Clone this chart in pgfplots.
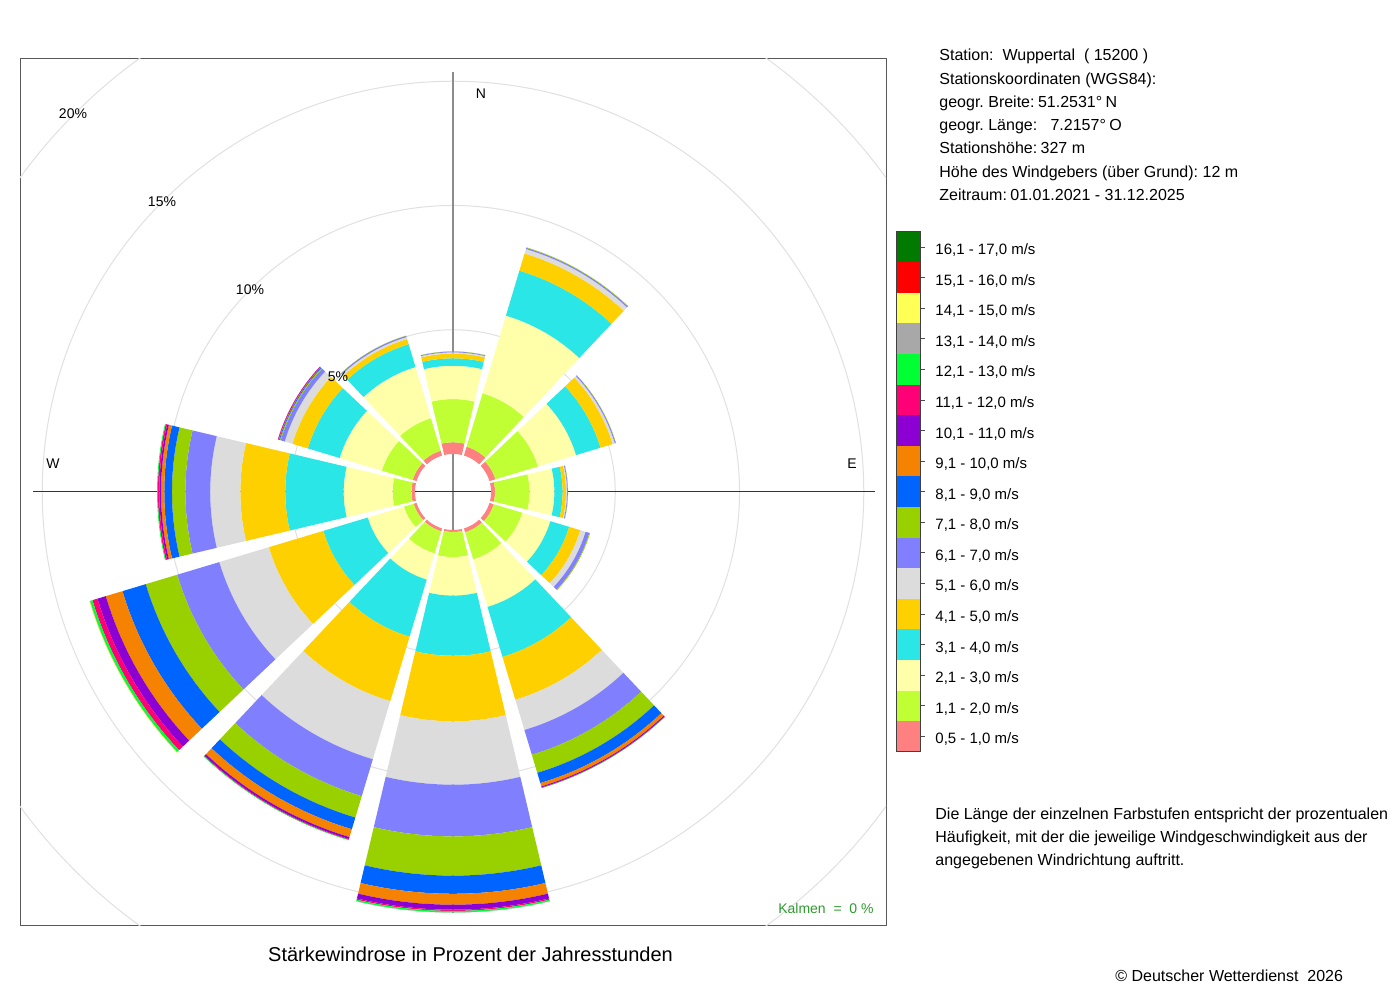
\documentclass[border=0pt]{standalone}
\usepackage{fontspec}
\setmainfont{Liberation Sans}
\usepackage{pgfplots}
\usepackage{pgfplotstable}
\pgfplotsset{compat=1.18}
\frenchspacing

\definecolor{wc1}{HTML}{FF8080}
\definecolor{wc2}{HTML}{BFFF33}
\definecolor{wc3}{HTML}{FFFFAA}
\definecolor{wc4}{HTML}{2AE6E6}
\definecolor{wc5}{HTML}{FFD000}
\definecolor{wc6}{HTML}{DCDCDC}
\definecolor{wc7}{HTML}{8080FF}
\definecolor{wc8}{HTML}{99D000}
\definecolor{wc9}{HTML}{0064FF}
\definecolor{wc10}{HTML}{F58200}
\definecolor{wc11}{HTML}{8C00D4}
\definecolor{wc12}{HTML}{FF0077}
\definecolor{wc13}{HTML}{00FF33}
\definecolor{wc14}{HTML}{A8A8A8}
\definecolor{wc15}{HTML}{FFFF55}
\definecolor{wc16}{HTML}{FF0000}
\definecolor{wc17}{HTML}{007A00}
\definecolor{kalm}{HTML}{2E9A2E}

% frequency (%) per direction and speed class
\pgfplotstableread{
dir c1 c2 c3 c4 c5 c6 c7 c8 c9 c10 c11 c12 c13 c14 c15 c16 c17
0   0.47 1.74 1.34 0.30 0.19 0.05 0.03 0.01 0 0 0 0 0 0 0 0 0
30  0.37 2.25 3.26 1.89 0.72 0.19 0.05 0.02 0 0 0 0 0 0 0 0 0
60  0.25 1.79 1.60 1.03 0.51 0.09 0.04 0.01 0 0 0 0 0 0 0 0 0
90  0.16 1.39 1.00 0.33 0.14 0.04 0.03 0.01 0 0 0 0 0 0 0 0 0
120 0.18 1.20 1.18 0.79 0.47 0.22 0.16 0.03 0 0 0 0 0 0 0 0 0
150 0.16 1.14 2.00 2.10 1.80 1.27 1.04 0.76 0.43 0.14 0.04 0.02 0.01 0 0 0 0
180 0.08 1.01 1.55 2.42 2.64 2.55 2.08 1.58 0.73 0.44 0.20 0.05 0.06 0.01 0 0 0
210 0.12 0.93 1.10 2.40 2.71 2.44 1.55 0.90 0.49 0.33 0.08 0.03 0.02 0 0 0 0
240 0.12 0.41 1.52 1.87 2.29 2.08 1.77 1.32 0.98 0.70 0.35 0.21 0.10 0.02 0.02 0 0
270 0.14 0.76 1.97 2.35 1.81 1.21 1.00 0.54 0.31 0.13 0.07 0.06 0.03 0 0 0 0
300 0.16 1.30 1.77 1.34 0.65 0.32 0.17 0.04 0.03 0.02 0.02 0.01 0 0 0 0 0
330 0.20 1.37 2.15 0.96 0.22 0.08 0.05 0.01 0 0 0 0 0 0 0 0 0
}\rosedata

\def\roff{1.53}
\newcommand\addsector[4]{%
  \gdef\sectorpts{}%
  \foreach \j in {0,...,16}{%
    \pgfmathsetmacro\ang{#1-13.3+\j*1.6625}%
    \pgfmathsetmacro\rr{#3+\roff}%
    \pgfmathsetmacro\xx{\rr*sin(\ang)}%
    \pgfmathsetmacro\yy{\rr*cos(\ang)}%
    \xdef\sectorpts{\sectorpts(\xx,\yy)}%
  }%
  \foreach \j in {16,15,...,0}{%
    \pgfmathsetmacro\ang{#1-13.3+\j*1.6625}%
    \pgfmathsetmacro\rr{#2+\roff}%
    \pgfmathsetmacro\xx{\rr*sin(\ang)}%
    \pgfmathsetmacro\yy{\rr*cos(\ang)}%
    \xdef\sectorpts{\sectorpts(\xx,\yy)}%
  }%
  \edef\temp{\noexpand\addplot[fill=#4,draw=none,forget plot] coordinates {\sectorpts};}%
  \temp
}

\newcommand\legitem[3]{%
  \fill[#2] (448pt,{384.15pt-15.295pt*#1}) rectangle (460.35pt,{384.15pt-15.295pt*(#1+1)});
  \draw[black!70,line width=0.4pt] (460.35pt,{384.15pt-15.295pt*(#1+0.5)}) -- ++(2.3pt,0);
  \node[anchor=west,inner sep=0pt,font=\fontsize{7.5pt}{9pt}\selectfont] at (467.5pt,{382.65pt-15.295pt*(#1+0.5)}) {#3};
}

\begin{document}
\begin{tikzpicture}
\useasboundingbox (0,0) rectangle (700pt,500pt);
\begin{axis}[
  at={(10pt,37.5pt)}, anchor=south west,
  width=433pt, height=433pt, scale only axis,
  xmin=-17.425, xmax=17.425, ymin=-17.425, ymax=17.425,
  xtick=\empty, ytick=\empty,
  axis line style={draw=black!65, line width=0.5pt},
  clip=true,
]
% grid circles and cross (clipped to the frame)
\begin{scope}
\clip (axis cs:-17.425,-17.425) rectangle (axis cs:17.425,17.425);
\draw[black!12, line width=0.5pt] (axis cs:0,0) circle[radius=6.53];
\draw[black!12, line width=0.5pt] (axis cs:0,0) circle[radius=11.53];
\draw[black!12, line width=0.5pt] (axis cs:0,0) circle[radius=16.53];
\draw[black!12, line width=0.5pt] (axis cs:0,0) circle[radius=21.53];
\end{scope}
\draw[black!45, line width=1pt] (axis cs:0,-16.95) -- (axis cs:0,16.91);
\draw[black!80, line width=0.5pt] (axis cs:-16.89,0) -- (axis cs:16.99,0);
% sectors
\foreach \r in {0,...,11}{%
  \pgfplotstablegetelem{\r}{dir}\of\rosedata
  \let\dirv\pgfplotsretval
  \gdef\cumin{0}%
  \foreach \k in {1,...,17}{%
    \pgfplotstablegetelem{\r}{c\k}\of\rosedata
    \let\val\pgfplotsretval
    \pgfmathsetmacro\cumout{\cumin+\val}%
    \ifdim\val pt>0pt
      \addsector{\dirv}{\cumin}{\cumout}{wc\k}%
    \fi
    \xdef\cumin{\cumout}%
  }%
}
\end{axis}

% direction and ring labels
\begin{scope}[every node/.style={inner sep=0pt,font=\fontsize{7pt}{8pt}\selectfont}]
\node at (240.5pt,453pt) {N};
\node at (426pt,268pt) {E};
\node at (26.5pt,268pt) {W};
\node at (169pt,311.5pt) {5\%};
\node at (125pt,355pt) {10\%};
\node at (81pt,399pt) {15\%};
\node at (36.5pt,443pt) {20\%};
\node[anchor=east,text=kalm] at (437pt,46pt) {Kalmen\ \ =\ \ 0 \%};
\end{scope}

% station info
\begin{scope}[every node/.style={anchor=base west,inner sep=0pt,font=\fontsize{8pt}{9pt}\selectfont}]
\node at (469.5pt,469.5pt) {Station:\ \ Wuppertal\ \ ( 15200 )};
\node at (469.5pt,457.85pt) {Stationskoordinaten (WGS84):};
\node at (469.5pt,446.25pt) {geogr. Breite:\hspace{-0.5pt} 51.2531°\hspace{-0.5pt} N};
\node at (469.5pt,434.65pt) {geogr. Länge:\ \ \ 7.2157°\hspace{-0.5pt} O};
\node at (469.5pt,423pt) {Stationshöhe:\hspace{-0.5pt} 327 m};
\node at (469.5pt,411.4pt) {Höhe des Windgebers (über Grund): 12 m};
\node at (469.5pt,399.8pt) {Zeitraum:\hspace{-0.5pt} 01.01.2021 - 31.12.2025};
\node at (467.5pt,90.25pt) {Die Länge der einzelnen Farbstufen entspricht der prozentualen};
\node at (467.5pt,78.75pt) {Häufigkeit, mit der die jeweilige Windgeschwindigkeit aus der};
\node at (467.5pt,67.25pt) {angegebenen Windrichtung auftritt.};
\node at (557.5pt,9.5pt) {© Deutscher Wetterdienst\ \ 2026};
\end{scope}

% title
\node[anchor=base,inner sep=0pt,font=\fontsize{10pt}{12pt}\selectfont] at (235.25pt,19.5pt) {Stärkewindrose in Prozent der Jahresstunden};

% legend
\legitem{0}{wc17}{16,1 - 17,0 m/s}
\legitem{1}{wc16}{15,1 - 16,0 m/s}
\legitem{2}{wc15}{14,1 - 15,0 m/s}
\legitem{3}{wc14}{13,1 - 14,0 m/s}
\legitem{4}{wc13}{12,1 - 13,0 m/s}
\legitem{5}{wc12}{11,1 - 12,0 m/s}
\legitem{6}{wc11}{10,1 - 11,0 m/s}
\legitem{7}{wc10}{9,1 - 10,0 m/s}
\legitem{8}{wc9}{8,1 - 9,0 m/s}
\legitem{9}{wc8}{7,1 - 8,0 m/s}
\legitem{10}{wc7}{6,1 - 7,0 m/s}
\legitem{11}{wc6}{5,1 - 6,0 m/s}
\legitem{12}{wc5}{4,1 - 5,0 m/s}
\legitem{13}{wc4}{3,1 - 4,0 m/s}
\legitem{14}{wc3}{2,1 - 3,0 m/s}
\legitem{15}{wc2}{1,1 - 2,0 m/s}
\legitem{16}{wc1}{0,5 - 1,0 m/s}
\draw[black!75,line width=0.5pt] (448pt,124.15pt) rectangle (460.35pt,384.15pt);
\end{tikzpicture}
\end{document}
